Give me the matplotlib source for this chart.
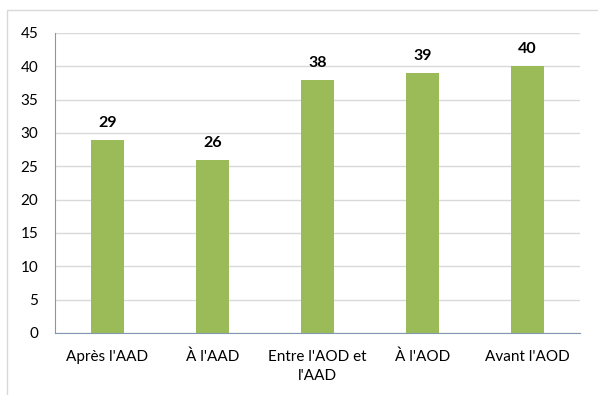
import matplotlib.pyplot as plt
from matplotlib.patches import Rectangle

categories = ["Après l'AAD", "À l'AAD", "Entre l'AOD et\nl'AAD", "À l'AOD", "Avant l'AOD"]
values = [29, 26, 38, 39, 40]
yticks = [0, 5, 10, 15, 20, 25, 30, 35, 40, 45]

plt.rcParams['font.family'] = ['Lato', 'DejaVu Sans']

fig = plt.figure(figsize=(5.98, 3.95), dpi=100)
ax = fig.add_axes([55 / 598, 62 / 395, 525 / 598, 300 / 395])

# outer chart border
fig.patches.append(Rectangle((7 / 598, -0.05), 1.1, 1 - 10 / 395 + 0.05,
                             transform=fig.transFigure, fill=False,
                             edgecolor='#D9D9D9', linewidth=1))

x = range(len(categories))
bars = ax.bar(x, values, width=0.31, color='#9BBB59', zorder=3)
for xi, v in zip(x, values):
    ax.text(xi, v + 1.5, str(v), ha='center', va='bottom',
            fontsize=11.5, fontweight='bold', color='black')

ax.set_xlim(-0.5, len(categories) - 0.5)
ax.set_ylim(0, 45)
ax.set_yticks(yticks)
ax.set_xticks(list(x))
ax.set_xticklabels(categories, fontsize=11, linespacing=1.5)
ax.tick_params(axis='y', labelsize=11, length=0, pad=12)
ax.tick_params(axis='x', length=0, pad=12)

ax.grid(axis='y', color='#D9D9D9', linewidth=1, zorder=0)
ax.spines['right'].set_visible(False)
ax.spines['top'].set_visible(False)
ax.spines['left'].set_color('#8497B0')
ax.spines['bottom'].set_color('#8497B0')

fig.savefig('out.png', dpi=100)
